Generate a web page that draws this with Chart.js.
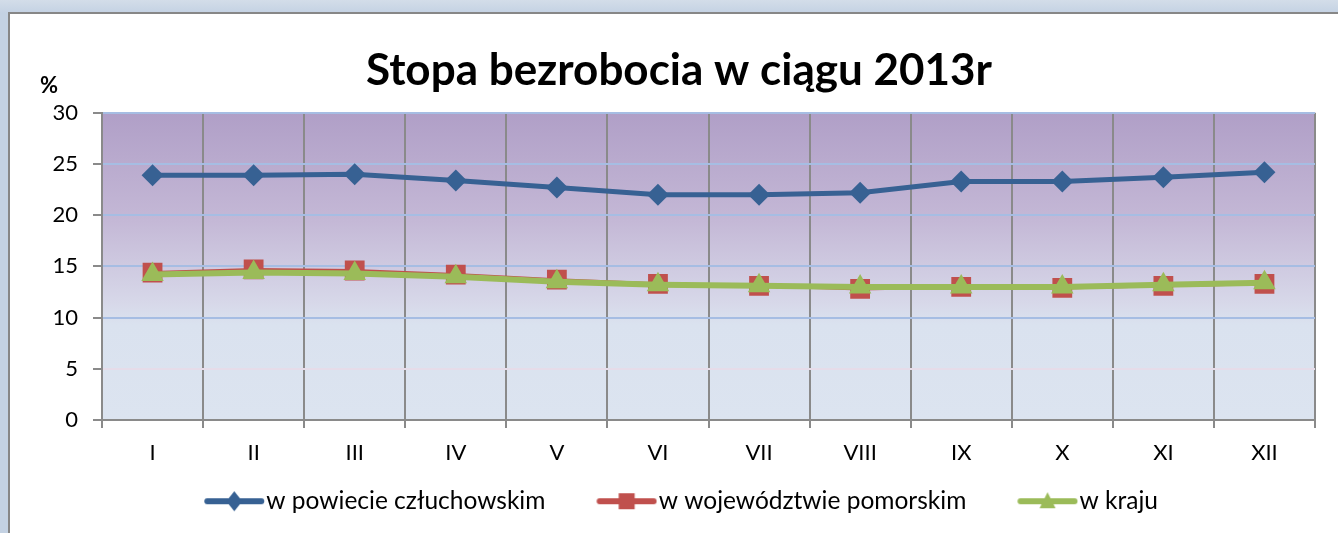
<!DOCTYPE html>
<html>
<head>
<meta charset="utf-8">
<script src="https://cdn.jsdelivr.net/npm/chart.js@4.4.1/dist/chart.umd.min.js"></script>
<style>
  html, body { margin: 0; padding: 0; }
  body { width: 1338px; height: 533px; overflow: hidden; position: relative;
         background: linear-gradient(to bottom, #d3dde9 0px, #c4d2e3 13px, #c4d2e3 100%); }
  #panel { position: absolute; left: 8px; top: 12px; width: 1340px; height: 530px;
           background: #ffffff; border-left: 2px solid #878787; border-top: 2px solid #878787; }
  #wrap { position: absolute; left: 0; top: 0; width: 1338px; height: 533px; }
</style>
</head>
<body>
<div id="panel"></div>
<div id="wrap"><canvas id="c" width="1338" height="533"></canvas></div>
<script>
const chartTitle = 'Stopa bezrobocia w ciągu 2013r';
const unitLabel = '%';
const categories = ['I', 'II', 'III', 'IV', 'V', 'VI', 'VII', 'VIII', 'IX', 'X', 'XI', 'XII'];
const seriesNames = ['w powiecie człuchowskim', 'w województwie pomorskim', 'w kraju'];
const powiat = [23.9, 23.9, 24.0, 23.4, 22.7, 22.0, 22.0, 22.2, 23.3, 23.3, 23.7, 24.2];
const wojewodztwo = [14.4, 14.7, 14.6, 14.2, 13.7, 13.3, 13.1, 12.8, 13.0, 12.9, 13.1, 13.3];
const kraj = [14.2, 14.4, 14.3, 14.0, 13.5, 13.2, 13.1, 13.0, 13.0, 13.0, 13.2, 13.4];
const yTicks = [0, 5, 10, 15, 20, 25, 30];

const FONT = "Lato, 'Open Sans', 'Liberation Sans', sans-serif";
const colors = ['#376193', '#c0504d', '#9bbb59'];
const styles = ['rectRot', 'rect', 'triangle'];

// legend geometry
const LEG_FS = 24.5, LEG_BOX = 54, LEG_PAD = 47;
const LEG_TEXT_X = LEG_BOX + LEG_FS / 2;
const LEG_LINE_END = LEG_TEXT_X - 2, LEG_LINE_START = LEG_LINE_END - 60;
const ICON_W = 2 * Math.ceil(LEG_LINE_END - LEG_BOX / 2), ICON_H = 24;
const ICON_LEFT = LEG_BOX / 2 - ICON_W / 2;

function legendIcon(idx) {
  const cv = document.createElement('canvas');
  cv.width = ICON_W; cv.height = ICON_H;
  const g = cv.getContext('2d');
  const x0 = LEG_LINE_START - ICON_LEFT, x1 = LEG_LINE_END - ICON_LEFT;
  const cx = (x0 + x1) / 2, cy = ICON_H / 2;
  g.strokeStyle = colors[idx];
  g.fillStyle = colors[idx];
  g.lineWidth = 6;
  g.lineCap = 'round';
  g.beginPath(); g.moveTo(x0 + 3, cy); g.lineTo(x1 - 3, cy); g.stroke();
  g.beginPath();
  if (idx === 0) {
    g.moveTo(cx, cy - 10); g.lineTo(cx + 8, cy); g.lineTo(cx, cy + 10); g.lineTo(cx - 8, cy);
  } else if (idx === 1) {
    g.rect(cx - 8, cy - 8, 16, 16);
  } else {
    g.moveTo(cx, cy - 9); g.lineTo(cx + 8, cy + 7); g.lineTo(cx - 8, cy + 7);
  }
  g.closePath(); g.fill();
  return cv;
}

const bgPlugin = {
  id: 'plotBg',
  afterLayout(chart) {
    const lg = chart.legend;
    if (lg) { const s = LEG_PAD - 10; lg.top -= s; lg.height += s; }
  },
  beforeDraw(chart) {
    const a = chart.chartArea, ctx = chart.ctx;
    const gr = ctx.createLinearGradient(0, a.top, 0, a.bottom);
    gr.addColorStop(0, '#b09fc7');
    gr.addColorStop(0.35, '#c4b8d6');
    gr.addColorStop(0.62, '#d7d8e9');
    gr.addColorStop(0.69, '#dae2ef');
    gr.addColorStop(1, '#dce4f0');
    ctx.save();
    ctx.fillStyle = gr;
    ctx.fillRect(a.left, a.top, a.right - a.left, a.bottom - a.top);
    ctx.restore();
  },
  afterDraw(chart) {
    const ctx = chart.ctx;
    ctx.save();
    ctx.fillStyle = '#000';
    ctx.font = 'bold 22px ' + FONT;
    ctx.textAlign = 'center';
    ctx.textBaseline = 'middle';
    ctx.fillText(unitLabel, 49, 86);
    ctx.restore();
  }
};

const datasets = [powiat, wojewodztwo, kraj].map((d, i) => ({
  label: seriesNames[i],
  data: d,
  borderColor: colors[i],
  backgroundColor: colors[i],
  borderWidth: [5, 3, 6][i],
  pointStyle: styles[i],
  pointRadius: [11, 14, 13][i],
  pointHoverRadius: [11, 14, 13][i],
  pointBorderWidth: 0,
  tension: 0,
  order: [2, 1, 0][i]
}));

new Chart(document.getElementById('c'), {
  type: 'line',
  data: { labels: categories, datasets },
  plugins: [bgPlugin],
  options: {
    responsive: false,
    animation: false,
    events: [],
    layout: { padding: { left: 43, right: 23, top: 0, bottom: 10 } },
    plugins: {
      tooltip: { enabled: false },
      title: {
        display: true, text: chartTitle, color: '#000',
        font: { family: FONT, size: 44, weight: 'bold', lineHeight: 1.2 },
        padding: { top: 44, bottom: 16 }
      },
      legend: {
        position: 'bottom', align: 'center',
        maxHeight: 44,
        labels: {
          color: '#000',
          font: { family: FONT, size: LEG_FS },
          usePointStyle: true,
          pointStyleWidth: LEG_BOX,
          padding: LEG_PAD,
          generateLabels(chart) {
            return chart.data.datasets.map((ds, i) => ({
              text: ds.label, datasetIndex: i, pointStyle: legendIcon(i),
              fillStyle: colors[i], strokeStyle: colors[i], lineWidth: 0, hidden: false,
              fontColor: '#000'
            }));
          }
        }
      }
    },
    scales: {
      x: {
        offset: true,
        afterFit(s) { s.height = 59; },
        grid: { offset: true, color: '#8a8a8a', lineWidth: 2, tickLength: 8, tickColor: '#8a8a8a', drawOnChartArea: true },
        border: { display: true, color: '#8a8a8a', width: 2 },
        ticks: { color: '#000', font: { family: FONT, size: 22 }, padding: 12, maxRotation: 0, autoSkip: false }
      },
      y: {
        min: 0, max: 30,
        afterFit(s) { s.width = 59; },
        afterBuildTicks(s) { s.ticks = yTicks.map(v => ({ value: v })); },
        grid: {
          color: c => (c.tick && c.tick.value === 5) ? '#e6dce9' : '#a6bde3',
          lineWidth: 2, tickLength: 9, tickColor: '#8a8a8a'
        },
        border: { display: true, color: '#8a8a8a', width: 2 },
        ticks: { color: '#000', font: { family: FONT, size: 22 }, padding: 15 }
      }
    }
  }
});
</script>
</body>
</html>
